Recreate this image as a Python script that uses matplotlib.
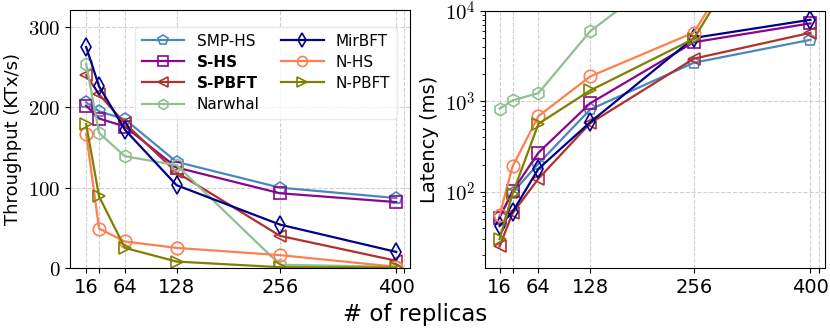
import matplotlib
matplotlib.use("Agg")
import matplotlib.pyplot as plt
import numpy as np
from matplotlib.ticker import FixedLocator, FuncFormatter

plt.rcParams['mathtext.fontset'] = 'cm'
plt.rcParams['font.family'] = ['DejaVu Sans']

replicas = [16, 32, 64, 128, 256, 400]
series = ["SMP-HS", "S-HS", "S-PBFT", "Narwhal", "MirBFT", "N-HS", "N-PBFT"]

tput_smp_hs = [206, 195, 185, 132, 100, 87]
tput_s_hs = [202, 186, 176, 125, 93, 82]
tput_s_pbft = [240, 216, 180, 119, 40, 9]
tput_narwhal = [254, 168, 139, 128, 4, 1.5]
tput_mirbft = [275, 226, 172, 103, 54, 20]
tput_n_hs = [167, 49, 33, 25, 16, 1.5]
tput_n_pbft = [179, 89, 25, 8, 1, 0.5]

lat_smp_hs = [53, 98, 205, 816, 2680, 4800]
lat_s_hs = [52, 102, 271, 955, 4520, 7300]
lat_s_pbft = [25, 58, 140, 575, 2970, 5740]
lat_narwhal = [830, 1026, 1236, 5980, 44000, 90000]
lat_mirbft = [42, 60, 180, 590, 5040, 8000]
lat_n_hs = [55, 191, 689, 1890, 5780, 700000]
lat_n_pbft = [30, 95, 566, 1323, 4930, 650000]

colors = ['#4a87bd', '#8b068b', '#b0302c', '#8fc08f', '#00008b', '#ff7f50', '#808000']
markers = ['p', 's', '<', 'h', 'd', 'o', '>']

tputs = [tput_smp_hs, tput_s_hs, tput_s_pbft, tput_narwhal, tput_mirbft, tput_n_hs, tput_n_pbft]
lats = [lat_smp_hs, lat_s_hs, lat_s_pbft, lat_narwhal, lat_mirbft, lat_n_hs, lat_n_pbft]

fig = plt.figure(figsize=(8.3, 3.32), dpi=100)
ax1 = fig.add_axes([70/830, 1-268/332, 340/830, 258/332])
ax2 = fig.add_axes([485/830, 1-268/332, 340/830, 257/332])

for ax, data in ((ax1, tputs), (ax2, lats)):
    for name, vals, c, m in zip(series, data, colors, markers):
        ax.plot(replicas, vals, color=c, marker=m, markersize=9,
                markerfacecolor='none', markeredgecolor=c, markeredgewidth=1.2,
                linewidth=1.6, label=name)
    ax.set_xticks([16, 32, 64, 128, 256, 400, 410])
    ax.set_xticklabels(['16', '', '64', '128', '256', '400', ''], fontsize=14)
    ax.grid(True, linestyle='--', color='#d0d0d0', linewidth=0.8)
    ax.set_axisbelow(True)
    ax.tick_params(axis='both', which='major', length=3.5, width=0.8)

ax1.set_xlim(-4, 417)
ax1.set_ylim(0, 321)
ax1.set_yticks([0, 100, 200, 300])
ax1.yaxis.set_major_formatter(FuncFormatter(lambda v, p: r'$%d$' % v))
ax1.tick_params(axis='y', labelsize=15)
ax1.set_ylabel('Throughput (KTx/s)', fontsize=13)

ax2.set_yscale('log')
ax2.set_xlim(-2, 418)
ax2.set_ylim(14.4, 1e4)
ax2.yaxis.set_major_locator(FixedLocator([100, 1000, 10000]))
ax2.yaxis.set_major_formatter(FuncFormatter(lambda v, p: r'$10^{%d}$' % int(round(np.log10(v)))))
ax2.tick_params(axis='y', labelsize=15)
ax2.set_ylabel('Latency (ms)', fontsize=14)

handles, labels = ax1.get_legend_handles_labels()
leg = ax1.legend(handles, labels, ncol=2, loc='upper right', fontsize=11,
                 bbox_to_anchor=(0.985, 0.965), frameon=True, framealpha=0.8,
                 edgecolor='#e6e6e6', handlelength=2.8, columnspacing=1.4,
                 labelspacing=0.4, borderpad=0.45, markerscale=0.8)
for t in leg.get_texts():
    if t.get_text() in ('S-HS', 'S-PBFT'):
        t.set_fontweight('bold')

fig.text(415/830, 1-314/332, '# of replicas', ha='center', va='center', fontsize=16.5)

fig.savefig('out.png', dpi=100)
